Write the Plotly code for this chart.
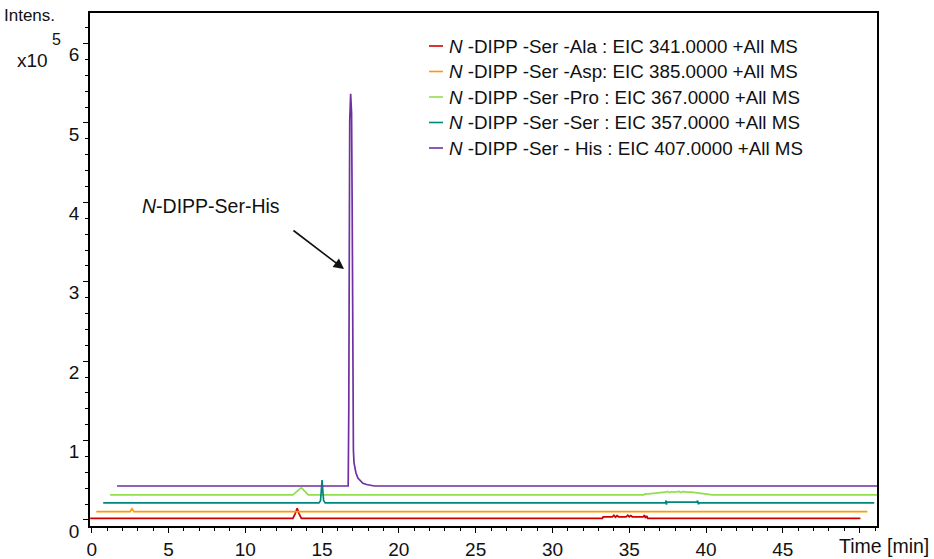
import plotly.graph_objects as go

# ---------------- data (time in min, intensity in units of 1e5, above trace baseline) -------------
legend_labels = [
    "<i>N</i> -DIPP -Ser -Ala : EIC 341.0000 +All MS",
    "<i>N</i> -DIPP -Ser -Asp: EIC 385.0000 +All MS",
    "<i>N</i> -DIPP -Ser -Pro : EIC 367.0000 +All MS",
    "<i>N</i> -DIPP -Ser -Ser : EIC 357.0000 +All MS",
    "<i>N</i> -DIPP -Ser - His : EIC 407.0000 +All MS",
]

ala_time = [-0.1, 13.1, 13.25, 13.38, 13.5, 13.65, 33.25, 33.3, 33.9, 34.0, 34.1, 34.2, 34.3, 34.8,
            34.9, 35.0, 35.1, 35.2, 35.9, 36.0, 36.05, 36.15, 36.2, 50.05]
ala_int = [0, 0, 0.06, 0.127, 0.06, 0, 0, 0.02, 0.02, 0.04, 0.015, 0.035, 0.02, 0.02,
           0.04, 0.02, 0.035, 0.02, 0.02, 0.04, 0.005, 0.03, 0, 0]

asp_time = [-0.15, 2.05, 2.17, 2.3, 50.05]
asp_int = [0, 0, 0.035, 0, 0]

pro_time = [-0.15, 11.75, 12.3, 12.75, 34.6, 34.7, 34.75, 35.3, 35.6, 36.0, 36.15, 36.25, 36.4,
            36.6, 36.9, 37.0, 37.2, 37.3, 37.7, 38.0, 38.4, 38.7, 39.05, 50.05]
pro_int = [0, 0, 0.092, 0, 0, 0.015, 0.01, 0.02, 0.03, 0.035, 0.045, 0.03, 0.04,
           0.035, 0.045, 0.03, 0.045, 0.035, 0.035, 0.03, 0.02, 0.01, 0, 0]

ser_time = [-0.15, 13.9, 14.0, 14.05, 14.1, 14.15, 14.2, 14.3, 36.45, 36.5, 36.52, 36.55, 38.5,
            38.55, 38.6, 38.65, 50.05]
ser_int = [0, 0, 0.03, 0.15, 0.29, 0.15, 0.03, 0, 0, 0.03, -0.02, 0.01, 0.01,
           0.03, -0.015, 0, 0]

his_time = [-0.15, 14.90, 14.94, 14.97, 15.00, 15.06, 15.12, 15.16, 15.19, 15.24, 15.28, 15.40,
            15.53, 15.70, 15.86, 16.10, 16.30, 16.60, 50.05]
his_int = [0, 0, 1.0, 3.0, 4.6, 4.94, 4.7, 3.5, 1.5, 0.45, 0.29, 0.17,
           0.10, 0.06, 0.034, 0.018, 0.01, 0, 0]

series_times = [ala_time, asp_time, pro_time, ser_time, his_time]
series_ints = [ala_int, asp_int, pro_int, ser_int, his_int]

# display offsets of the stacked chromatogram view (Ala, Asp, Pro, Ser, His)
x_offsets = [0.0, 0.45, 1.35, 0.9, 1.8]
y_offsets = [0.02, 0.105, 0.315, 0.214, 0.428]

colors = ["#d00000", "#ff9a00", "#8ee04c", "#00857f", "#7030a0"]

x_tick_vals = [0, 5, 10, 15, 20, 25, 30, 35, 40, 45, 50]
x_tick_text = ["0", "5", "10", "15", "20", "25", "30", "35", "40", "45", ""]
y_tick_vals = [0, 1, 2, 3, 4, 5, 6]

# ---------------- figure -------------
FONT = "Liberation Sans, Arial, sans-serif"
fig = go.Figure()
for t, v, dx, dy, c, name in zip(series_times, series_ints, x_offsets, y_offsets, colors, legend_labels):
    fig.add_trace(go.Scatter(
        x=[ti + dx for ti in t], y=[vi + dy for vi in v], mode="lines",
        line=dict(color=c, width=1.7), name=name, showlegend=False, hoverinfo="skip"))

W, H = 934, 559
L, R, T, B = 90, 57, 13, 33
pw, ph = W - L - R, H - T - B

def px(x):
    return (x - L) / pw

def py(y):
    return (H - B - y) / ph

# custom legend (short line samples + text)
legend_rows = [46, 71.5, 97, 122.5, 148]
for yr, c, name in zip(legend_rows, colors, legend_labels):
    fig.add_shape(type="line", xref="paper", yref="paper", x0=px(429), x1=px(443), y0=py(yr), y1=py(yr),
                  line=dict(color=c, width=1.6))
    fig.add_annotation(xref="paper", yref="paper", x=px(447), y=py(yr), text=name, showarrow=False,
                       xanchor="left", yanchor="middle", font=dict(size=18.8, color="#111", family=FONT))

# peak annotation
fig.add_annotation(x=3.14, y=3.96, xref="x", yref="y", text="<i>N</i>-DIPP-Ser-His", showarrow=False,
                   xanchor="left", yanchor="middle", font=dict(size=19.5, color="#111", family=FONT))
fig.add_annotation(x=16.43, y=3.16, ax=13.04, ay=3.66, xref="x", yref="y", axref="x", ayref="y",
                   text="", showarrow=True, arrowhead=2, arrowsize=1.3, arrowwidth=1.6, arrowcolor="#111")

# axis titles
fig.add_annotation(xref="paper", yref="paper", x=px(29), y=py(15), text="Intens.", showarrow=False,
                   xanchor="center", yanchor="middle", font=dict(size=17, color="#111", family=FONT))
fig.add_annotation(xref="paper", yref="paper", x=px(32.5), y=py(60), text="x10", showarrow=False,
                   xanchor="center", yanchor="middle", font=dict(size=19, color="#111", family=FONT))
fig.add_annotation(xref="paper", yref="paper", x=px(56), y=py(39), text="5", showarrow=False,
                   xanchor="center", yanchor="middle", font=dict(size=16, color="#111", family=FONT))
fig.add_annotation(xref="paper", yref="paper", x=px(884), y=py(546), text="Time [min]", showarrow=False,
                   xanchor="center", yanchor="middle", font=dict(size=19.5, color="#111", family=FONT))

fig.update_xaxes(range=[-0.11, 51.13], tickvals=x_tick_vals, ticktext=x_tick_text, ticks="outside",
                 ticklen=5, tickwidth=1.3, tickcolor="black", showline=True, linecolor="black",
                 linewidth=1.6, mirror=True, showgrid=False, zeroline=False, automargin=False,
                 tickfont=dict(size=19, color="#111", family=FONT),
                 minor=dict(dtick=1, ticks="outside", ticklen=3, tickwidth=1.1, tickcolor="black"))
fig.update_yaxes(range=[-0.076, 6.385], tickvals=y_tick_vals, ticks="outside", ticklen=5, tickwidth=1.3,
                 tickcolor="black", showline=True, linecolor="black", linewidth=1.6, mirror=True,
                 showgrid=False, zeroline=False, ticklabelshift=11, automargin=False,
                 tickfont=dict(size=19, color="#111", family=FONT),
                 minor=dict(dtick=0.2, ticks="outside", ticklen=3, tickwidth=1.1, tickcolor="black"))

fig.update_layout(width=W, height=H, margin=dict(l=L, r=R, t=T, b=B), plot_bgcolor="white",
                  paper_bgcolor="white", showlegend=False, font=dict(family=FONT))

fig.write_html("out.html", config={"displayModeBar": False},
               post_script="document.body.style.margin='0px';")
